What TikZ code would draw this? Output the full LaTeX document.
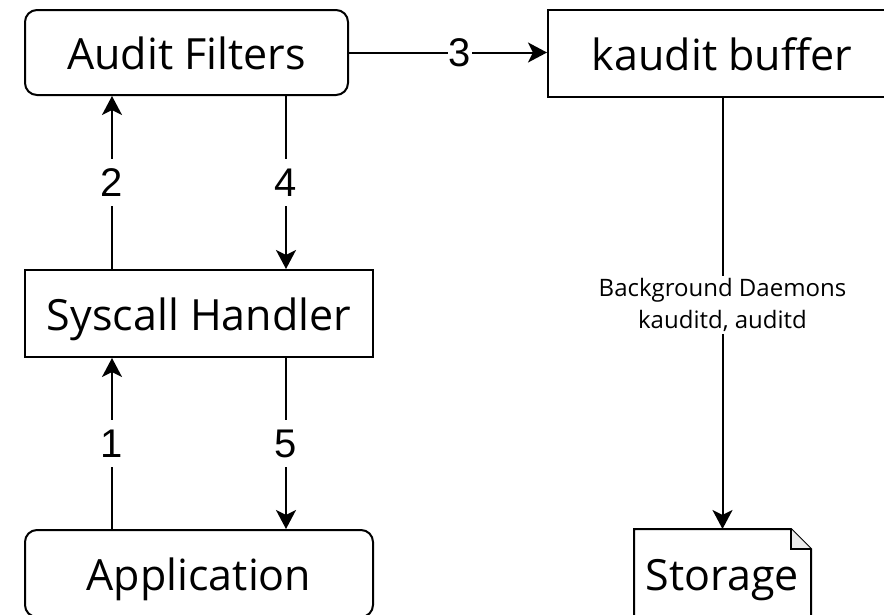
\documentclass[tikz,border=0pt]{standalone}
\usepackage{fontspec}
\setmainfont{Open Sans}
\newfontfamily\numfont{Liberation Sans}
\usetikzlibrary{arrows.meta}

\begin{document}
\begin{tikzpicture}[x=1pt,y=-1pt]
    \tikzstyle{box}=[draw,line width=2pt,inner sep=0pt,minimum height=87pt,text height=34pt,text depth=0pt,font=\fontsize{43}{50}\selectfont]
    \tikzstyle{rbox}=[box,rounded corners=12pt]
    \tikzstyle{link}=[line width=2pt,-{Stealth[length=19pt,width=20pt,inset=5pt]}]
    \tikzstyle{num}=[fill=white,inner xsep=1pt,inner ysep=10pt,font=\numfont\fontsize{40}{40}\selectfont]
    \useasboundingbox (0,0) rectangle (884,614);
    \node[rbox,minimum width=323pt,minimum height=85pt] (filters) at (186.5,52.5) {Audit Filters};
    \node[box,minimum width=348pt] (kbuf) at (722,53.5) {kaudit buffer};
    \node[box,minimum width=348pt] (syscall) at (199,313.5) {Syscall Handler};
    \node[rbox,minimum width=348pt] (app) at (199,573.5) {Application};
    \node[box,draw=none,minimum width=175pt] (store) at (722.5,573.5) {Storage};
    % folded corner of the storage note
    \draw[line width=2pt] (store.south west) -- (store.north west) -- ([xshift=-20pt]store.north east)
      -- ([yshift=-20pt]store.north east) -- (store.south east);
    \filldraw[fill=gray!15,line width=2pt] ([xshift=-20pt]store.north east) -- ([xshift=-20pt,yshift=-20pt]store.north east)
      -- ([yshift=-20pt]store.north east);
    \coordinate (up) at (112,0);
    \coordinate (down) at (286,0);
    \draw[link] (up |- syscall.north) -- node[num] {2} (up |- filters.south);
    \draw[link] (down |- filters.south) -- node[num] {4} (down |- syscall.north);
    \draw[link] (up |- app.north) -- node[num] {1} (up |- syscall.south);
    \draw[link] (down |- syscall.south) -- node[num] {5} (down |- app.north);
    \draw[link] (filters.east) -- node[num,pos=0.56] {3} (filters.east -| kbuf.west);
    \draw[link] (kbuf.south -| store.north) -- node[fill=white,inner sep=2pt,align=center,pos=0.48,font=\fontsize{24}{32}\selectfont]
      {Background Daemons\\kauditd, auditd} (store.north);
\end{tikzpicture}
\end{document}
